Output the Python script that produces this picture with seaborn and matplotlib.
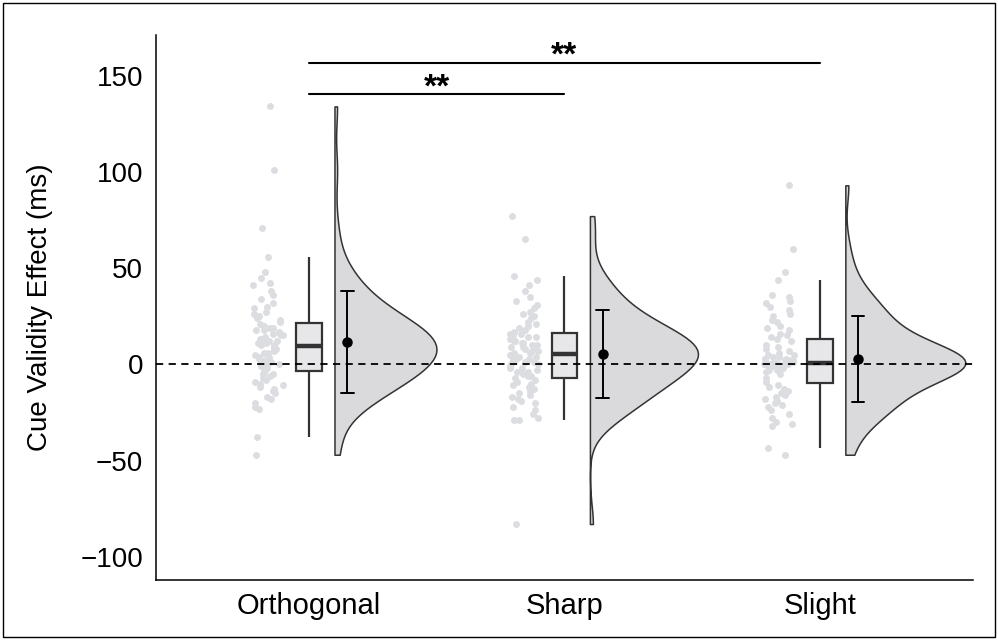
"""
Raincloud plot of the cue validity effect per cue condition.
"""
import matplotlib

matplotlib.use("Agg")
import matplotlib.pyplot as plt
import numpy as np
import pandas as pd
import seaborn as sns
from matplotlib.patches import Rectangle

GROUPS = ["Orthogonal", "Sharp", "Slight"]

orthogonal_ms = [
    134, 101, 71, 56, 22, 23, 24, 25, 26, 27, 29, 30, 32, 34, 36, 38, 41, 42, 45, 48,
    10, 10, 11, 11, 12, 12, 13, 13, 14, 15, 15, 16, 16, 17, 18, 18, 19, 19, 20, 21,
    -3, -2, -1, -1, 0, 0, 1, 1, 2, 3, 3, 4, 4, 5, 6, 6, 7, 8, 8, 9,
    -4, -5, -5, -6, -7, -8, -9, -10, -11, -12, -13, -14, -15, -17, -18, -20, -22, -23, -38, -47,
]
sharp_ms = [
    77, 65, 46, 44, 41, 38, 35, 33, 31, 29, 27, 26, 25, 24, 22, 21, 20, 19, 18, 17,
    6, 6, 7, 7, 8, 8, 9, 9, 10, 10, 11, 11, 12, 12, 13, 14, 14, 15, 16, 16,
    -7, -6, -6, -5, -4, -4, -3, -2, -2, -1, 0, 0, 1, 1, 2, 3, 3, 4, 4, 5,
    -8, -9, -10, -11, -12, -13, -14, -15, -16, -17, -18, -19, -20, -22, -24, -26, -28, -29, -29, -83,
]
slight_ms = [
    93, 60, 48, 44, 36, 35, 33, 32, 30, 28, 26, 25, 23, 22, 20, 19, 18, 16, 15, 14,
    1, 1, 1, 2, 2, 2, 3, 3, 3, 4, 4, 5, 5, 6, 7, 8, 9, 10, 12, 13,
    -9, -7, -5, -4, -3, -3, -2, -2, -2, -1, -1, -1, -1, 0, 0, 0, 0, 0, 0, 0,
    -11, -12, -13, -14, -15, -16, -17, -18, -19, -20, -21, -22, -24, -26, -28, -30, -31, -32, -43.5, -47,
]

# significance comparisons (group index pairs), bracket heights, labels
SIG_PAIRS = [(0, 1), (0, 2)]
SIG_Y = [140.2, 156.7]
SIG_LABELS = ["**", "**"]

POINT_COLOR = "#dcdde1"
BOX_FILL = "#e6e7ea"
VIOLIN_FILL = "#d9dade"
LINE_COLOR = "#333333"
VIOLIN_WIDTH = 0.47


def build_frame():
    rows = []
    for i, (name, vals) in enumerate(zip(GROUPS, [orthogonal_ms, sharp_ms, slight_ms])):
        for v in vals:
            rows.append({"group": name, "pos": i, "value": v})
    df = pd.DataFrame(rows)
    df["strip_x"] = df["pos"] - 0.16
    df["box_x"] = df["pos"] + 0.0
    df["mean_x"] = df["pos"] + 0.15
    # split violin puts its flat edge half a width left of its position
    df["violin_x"] = df["pos"] + 0.10 + VIOLIN_WIDTH / 2
    df["side"] = "right"
    return df


def main():
    np.random.seed(3)
    df = build_frame()

    sns.set_style("white")
    plt.rcParams["font.family"] = ["Liberation Sans", "DejaVu Sans"]
    plt.rcParams.update({
        "text.color": "black",
        "axes.labelcolor": "black",
        "xtick.color": "black",
        "ytick.color": "black",
    })

    fig = plt.figure(figsize=(9.98, 6.4), dpi=100)
    ax = fig.add_axes([0.156, 0.094, 0.819, 0.851])

    sns.violinplot(
        data=df, x="violin_x", y="value", hue="side", hue_order=["left", "right"],
        split=True, inner=None, cut=0, native_scale=True, dodge=False,
        width=VIOLIN_WIDTH, palette={"left": VIOLIN_FILL, "right": VIOLIN_FILL},
        linecolor=LINE_COLOR, linewidth=1.1, legend=False, ax=ax,
    )
    sns.stripplot(
        data=df, x="strip_x", y="value", native_scale=True, jitter=0.06,
        color=POINT_COLOR, size=5, linewidth=0, ax=ax, zorder=2,
    )
    sns.boxplot(
        data=df, x="box_x", y="value", native_scale=True, width=0.1,
        color=BOX_FILL, linecolor=LINE_COLOR, linewidth=1.6, showfliers=False,
        showcaps=False, medianprops={"linewidth": 3.2}, ax=ax,
    )
    sns.pointplot(
        data=df, x="mean_x", y="value", native_scale=True, errorbar="sd",
        linestyle="none", marker="o", markersize=5.5, color="black",
        capsize=0.05, err_kws={"linewidth": 1.4}, ax=ax,
    )

    ax.axhline(0, color="black", linestyle=(0, (4, 3)), linewidth=1.3, zorder=5)

    for (a, b), y, lab in zip(SIG_PAIRS, SIG_Y, SIG_LABELS):
        ax.plot([a, b], [y, y], color="black", linewidth=1.5)
        ax.text((a + b) / 2, y - 1.0, lab, ha="center", va="baseline",
                fontsize=24, fontweight="bold")

    ax.set_xlim(-0.6, 2.6)
    ax.set_ylim(-112, 171)
    ax.set_xticks(range(len(GROUPS)))
    ax.set_xticklabels(GROUPS, fontsize=21)
    ax.set_yticks([-100, -50, 0, 50, 100, 150])
    ax.set_yticklabels(["\u2212100", "\u221250", "0", "50", "100", "150"], fontsize=20)
    ax.tick_params(axis="both", length=0, pad=9)
    ax.set_xlabel("")
    ax.set_ylabel("Cue Validity Effect (ms)", fontsize=20, labelpad=20)
    for side in ["top", "right"]:
        ax.spines[side].set_visible(False)
    for side in ["left", "bottom"]:
        ax.spines[side].set_color("black")
        ax.spines[side].set_linewidth(1.1)

    fig.patches.append(Rectangle((0.003, 0.004), 0.994, 0.992, transform=fig.transFigure,
                                 fill=False, edgecolor="black", linewidth=1.0))

    fig.savefig("out.png", dpi=100)
    plt.close(fig)


if __name__ == "__main__":
    main()
